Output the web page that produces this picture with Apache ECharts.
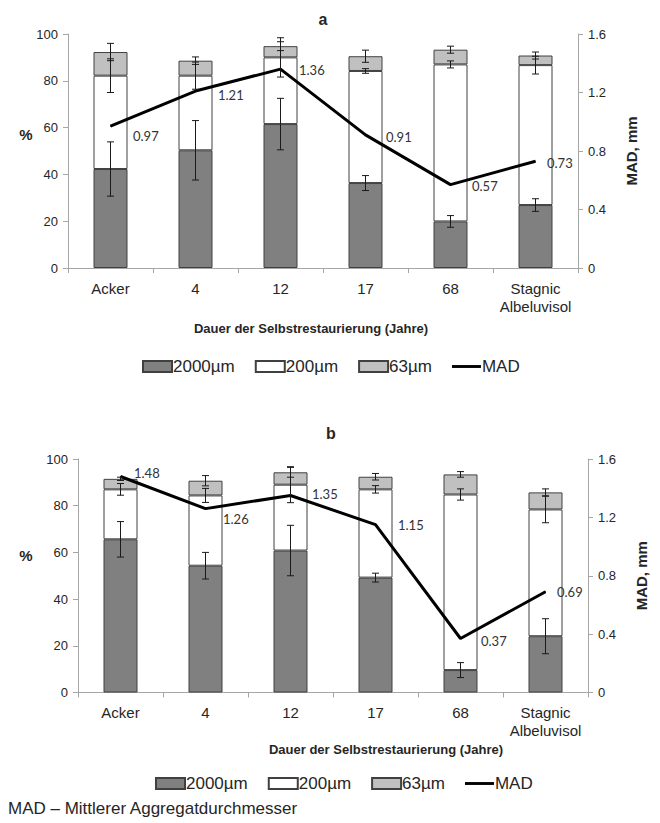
<!DOCTYPE html>
<html>
<head>
<meta charset="utf-8">
<script src="https://cdn.jsdelivr.net/npm/echarts@6/dist/echarts.min.js"></script>
<style>
html,body{margin:0;padding:0;background:#fff;}
#c{width:660px;height:823px;}
</style>
</head>
<body>
<div id="c"></div>
<script>
// ---------- data ----------
var categories = ['Acker', '4', '12', '17', '68', 'Stagnic\nAlbeluvisol'];
var seriesNames = ['2000µm', '200µm', '63µm', 'MAD'];

// Panel a
var a2000 = [42.3, 50.3, 61.5, 36.3, 19.9, 26.9];
var a200  = [39.9, 31.9, 28.5, 47.9, 67.1, 59.8];
var a63   = [10.1, 6.4, 4.8, 6.3, 6.3, 4.1];
var a2000Err = [11.6, 12.7, 11.0, 3.2, 2.5, 2.7];
var a200Err  = [7.2, 5.8, 8.4, 1.0, 1.5, 3.8];
var a63Err   = [3.7, 1.6, 1.9, 2.6, 1.5, 1.5];
var aMAD = [0.97, 1.21, 1.36, 0.91, 0.57, 0.73];

// Panel b
var b2000 = [65.6, 54.3, 60.8, 49.2, 9.6, 24.1];
var b200  = [21.4, 30.1, 28.2, 37.8, 75.2, 54.3];
var b63   = [4.5, 6.3, 5.3, 5.4, 8.6, 7.3];
var b2000Err = [7.6, 5.7, 10.8, 1.9, 3.2, 7.5];
var b200Err  = [2.5, 3.0, 7.7, 1.6, 2.4, 5.7];
var b63Err   = [0.7, 2.2, 2.1, 1.4, 1.2, 1.5];
var bMAD = [1.48, 1.26, 1.35, 1.15, 0.37, 0.69];

var leftTicks = [0, 20, 40, 60, 80, 100];
var rightTicks = [0, 0.4, 0.8, 1.2, 1.6];

var xTitle = 'Dauer der Selbstrestaurierung (Jahre)';
var footnote = 'MAD – Mittlerer Aggregatdurchmesser';

// label nudges (style only)
var aLabelShift = [[22, 10], [22, 4], [18, 1], [20, 2], [21, 1], [11, 2]];
var bLabelShift = [[13, -4], [17, 10], [21, -1], [22, 0], [20, 2], [11, 0]];

// ---------- helpers ----------
var AX = '#a6a6a6';
var TXT = '#262626';
var FONT = '"Liberation Sans", Arial, sans-serif';

function errData(base, seg, err) {
  var out = [];
  for (var i = 0; i < seg.length; i++) {
    var top = seg[i];
    if (base) top += base[i];
    out.push([i, top, err[i]]);
  }
  return out;
}
function add(x, y) { return x.map(function (v, i) { return v + y[i]; }); }

function errSeries(xi, yi, data) {
  return {
    type: 'custom', xAxisIndex: xi, yAxisIndex: yi, z: 10, silent: true,
    data: data,
    renderItem: function (params, api) {
      var x = api.value(0), c = api.value(1), e = api.value(2);
      var p1 = api.coord([x, c + e]);
      var p2 = api.coord([x, c - e]);
      var hw = 3.5;
      var st = {stroke: '#1a1a1a', lineWidth: 1};
      return {type: 'group', children: [
        {type: 'line', shape: {x1: p1[0], y1: p1[1], x2: p2[0], y2: p2[1]}, style: st},
        {type: 'line', shape: {x1: p1[0] - hw, y1: p1[1], x2: p1[0] + hw, y2: p1[1]}, style: st},
        {type: 'line', shape: {x1: p2[0] - hw, y1: p2[1], x2: p2[0] + hw, y2: p2[1]}, style: st}
      ]};
    }
  };
}

function barSeries(name, data, xi, yi, stack, color) {
  return {
    name: name, type: 'bar', stack: stack, xAxisIndex: xi, yAxisIndex: yi,
    barWidth: '40%', data: data,
    itemStyle: {color: color, borderColor: '#404040', borderWidth: 1},
    emphasis: {disabled: true}
  };
}

function madSeries(vals, shifts, xi, yi) {
  return {
    name: 'MAD', type: 'line', xAxisIndex: xi, yAxisIndex: yi, z: 8,
    symbol: 'circle', symbolSize: 1, showSymbol: true,
    lineStyle: {color: '#000', width: 3}, itemStyle: {color: '#000'},
    data: vals.map(function (v, i) {
      return {value: v, label: {offset: shifts[i]}};
    }),
    label: {show: true, position: 'right', distance: 0,
      formatter: function (p) { return p.value.toFixed(2); },
      fontFamily: 'Lato, "Open Sans", sans-serif', fontSize: 13, color: '#333'}
  };
}

function xAxis(gi) {
  return {
    type: 'category', gridIndex: gi, data: categories,
    axisLine: {lineStyle: {color: AX}},
    axisTick: {show: true, length: 5, lineStyle: {color: AX}},
    axisLabel: {interval: 0, color: TXT, fontFamily: FONT, fontSize: 15, margin: 11, lineHeight: 18}
  };
}
function yLeft(gi) {
  return {
    type: 'value', gridIndex: gi, min: 0, max: 100, interval: 20,
    splitLine: {show: false},
    axisLine: {show: true, lineStyle: {color: AX}},
    axisTick: {show: true, length: 5, lineStyle: {color: AX}},
    axisLabel: {color: TXT, fontFamily: FONT, fontSize: 13, margin: 10}
  };
}
function yRight(gi) {
  return {
    type: 'value', gridIndex: gi, min: 0, max: 1.6, interval: 0.4, position: 'right',
    splitLine: {show: false},
    axisLine: {show: true, lineStyle: {color: AX}},
    axisTick: {show: true, length: 5, lineStyle: {color: AX}},
    axisLabel: {color: TXT, fontFamily: FONT, fontSize: 13, margin: 10,
      formatter: function (v) { return v === 0 ? '0' : v.toFixed(1); }},
    name: 'MAD, mm', nameLocation: 'middle', nameRotate: 90, nameGap: 46,
    nameTextStyle: {fontFamily: FONT, fontWeight: 'bold', fontSize: 15, color: TXT}
  };
}

function legend(top, left) {
  return {
    top: top, left: left,
    itemWidth: 29, itemHeight: 11, itemGap: 20,
    textStyle: {fontFamily: FONT, fontSize: 17, color: TXT, padding: [0, 0, 0, -4]},
    data: [
      {name: '2000µm', icon: 'rect'},
      {name: '200µm', icon: 'rect'},
      {name: '63µm', icon: 'rect'},
      {name: 'MAD', icon: 'path://M0,0 L30,0 L30,3 L0,3 Z', itemStyle: {color: '#000', borderWidth: 0}}
    ],
    selectedMode: false
  };
}
function txt(text, left, top, size, bold, align) {
  return {text: text, left: left, top: top, textAlign: align || 'center', padding: 0,
    textStyle: {fontFamily: FONT, fontWeight: bold ? 'bold' : 'normal', fontSize: size, color: TXT}};
}

var chart = echarts.init(document.getElementById('c'), null, {renderer: 'svg'});
var option = {
  backgroundColor: '#fff',
  animation: false,
  title: [
    txt('a', 323, 11, 16, true),
    txt('b', 331, 425, 16, true),
    txt('%', 26, 127, 15, true),
    txt('%', 26, 548, 15, true),
    txt(xTitle, 311, 322, 13, true),
    txt(xTitle, 386, 743, 13, true),
    txt(footnote, 8, 800, 17, false, 'left')
  ],
  grid: [
    {left: 68, right: 82, top: 34, height: 234},
    {left: 78, right: 72, top: 459, height: 233.5}
  ],
  legend: [legend(353, 137), legend(770, 150)],
  xAxis: [xAxis(0), xAxis(1)],
  yAxis: [yLeft(0), yRight(0), yLeft(1), yRight(1)],
  series: [
    barSeries('2000µm', a2000, 0, 0, 'a', '#808080'),
    barSeries('200µm', a200, 0, 0, 'a', '#ffffff'),
    barSeries('63µm', a63, 0, 0, 'a', '#c0c0c0'),
    errSeries(0, 0, errData(null, a2000, a2000Err)),
    errSeries(0, 0, errData(a2000, a200, a200Err)),
    errSeries(0, 0, errData(add(a2000, a200), a63, a63Err)),
    madSeries(aMAD, aLabelShift, 0, 1),

    barSeries('2000µm', b2000, 1, 2, 'b', '#808080'),
    barSeries('200µm', b200, 1, 2, 'b', '#ffffff'),
    barSeries('63µm', b63, 1, 2, 'b', '#c0c0c0'),
    errSeries(1, 2, errData(null, b2000, b2000Err)),
    errSeries(1, 2, errData(b2000, b200, b200Err)),
    errSeries(1, 2, errData(add(b2000, b200), b63, b63Err)),
    madSeries(bMAD, bLabelShift, 1, 3)
  ]
};
chart.setOption(option);
</script>
</body>
</html>
